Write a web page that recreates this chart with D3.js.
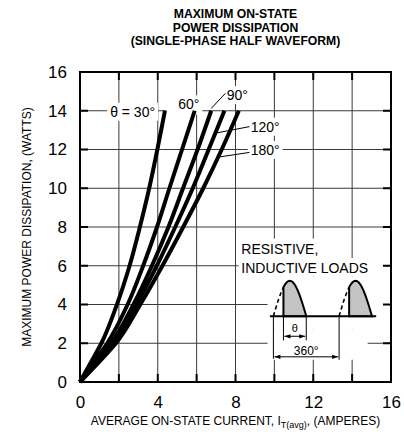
<!DOCTYPE html>
<html><head><meta charset="utf-8">
<script src="https://cdn.jsdelivr.net/npm/d3@7"></script>
<style>
body{margin:0;background:#fff}
svg{display:block;font-family:"Liberation Sans",Arial,Helvetica,sans-serif}
</style>
</head><body>
<svg id="c" width="404" height="434"></svg>
<script>
// ---------- data ----------
const titleLines = ["MAXIMUM ON-STATE", "POWER DISSIPATION", "(SINGLE-PHASE HALF WAVEFORM)"];
const xTicks = [0, 4, 8, 12, 16];
const yTicks = [0, 2, 4, 6, 8, 10, 12, 14, 16];
const gridX = [2, 4, 6, 8, 10, 12, 14];
const gridY = [2, 4, 6, 8, 10, 12, 14];
const powerLevels = [0, 1, 2, 4, 6, 8, 10, 12, 14];          // watts
const current30  = [0, 0.55, 1.10, 1.90, 2.55, 3.08, 3.56, 3.98, 4.37];
const current60  = [0, 0.70, 1.40, 2.45, 3.25, 3.96, 4.60, 5.25, 5.90];
const current90  = [0, 0.80, 1.60, 2.75, 3.70, 4.55, 5.30, 6.05, 6.75];
const current120 = [0, 0.85, 1.70, 2.90, 3.95, 4.90, 5.80, 6.62, 7.43];
const current180 = [0, 0.95, 1.85, 3.10, 4.24, 5.31, 6.34, 7.29, 8.17];
const seriesLabels = ["θ = 30°", "60°", "90°", "120°", "180°"];
const yTitle = "MAXIMUM POWER DISSIPATION, (WATTS)";
const insetText = ["RESISTIVE,", "INDUCTIVE LOADS"];

// ---------- setup ----------
const svg = d3.select("#c");
const x = d3.scaleLinear([0, 16], [80, 391]);
const y = d3.scaleLinear([0, 16], [382, 72]);
const FONT = '"Liberation Sans",Arial,Helvetica,sans-serif';

// title
svg.append("g").selectAll("text").data(titleLines).join("text")
  .attr("x", 235.5).attr("y", (d, i) => 18 + i * 13.7)
  .attr("text-anchor", "middle").attr("font-weight", "bold").attr("font-size", 12.2)
  .text(d => d);

// grid
const grid = svg.append("g").attr("stroke", "#3a3a3a").attr("stroke-width", 1);
grid.selectAll(".gx").data(gridX).join("line")
  .attr("x1", d => x(d)).attr("x2", d => x(d)).attr("y1", y(0)).attr("y2", y(16));
grid.selectAll(".gy").data(gridY).join("line")
  .attr("y1", d => y(d)).attr("y2", d => y(d)).attr("x1", x(0)).attr("x2", x(16));

// white halos (label backgrounds covering grid)
const halo = svg.append("g").attr("fill", "#fff");
halo.append("rect").attr("x", x(8.15)).attr("y", y(7.4)).attr("width", x(12.6) - x(8.15)).attr("height", y(6.4) - y(7.4));
halo.append("rect").attr("x", x(8.15)).attr("y", y(6.4)).attr("width", x(15.6) - x(8.15)).attr("height", y(5.45) - y(6.4));
halo.append("rect").attr("x", x(9.65)).attr("y", y(5.45)).attr("width", x(15.6) - x(9.65)).attr("height", y(2.7) - y(5.45));
halo.append("rect").attr("x", x(9.65)).attr("y", y(2.7)).attr("width", x(14.8) - x(9.65)).attr("height", y(1.15) - y(2.7));
halo.append("rect").attr("x", x(4.45)).attr("y", y(14.7)).attr("width", x(6.1) - x(4.45)).attr("height", y(13.8) - y(14.7));

// curve labels
const labelPos = [
  {u: 1.55, v: 13.69}, {u: 5.05, v: 14.07}, {u: 7.55, v: 14.55}, {u: 8.78, v: 12.92}, {u: 8.78, v: 11.72}
];
const labG = svg.append("g").attr("font-size", 14);
labelPos.forEach((p, i) => {
  const t = labG.append("text").attr("x", x(p.u)).attr("y", y(p.v)).text(seriesLabels[i]);
  const b = t.node().getBBox();
  labG.insert("rect", "text").attr("fill", "#fff")
    .attr("x", b.x - 3).attr("y", b.y - 1).attr("width", b.width + 6).attr("height", b.height + 2);
});
const leaders = [
  [[6.75, 14.12], [7.48, 14.9]],
  [[7.05, 12.86], [8.72, 13.18]],
  [[7.2, 11.62], [8.72, 11.85]]
];
svg.append("g").attr("stroke", "#000").attr("stroke-width", 1)
  .selectAll("line").data(leaders).join("line")
  .attr("x1", d => x(d[0][0])).attr("y1", d => y(d[0][1]))
  .attr("x2", d => x(d[1][0])).attr("y2", d => y(d[1][1]));

// frame
svg.append("rect").attr("x", x(0)).attr("y", y(16)).attr("width", x(16) - x(0)).attr("height", y(0) - y(16))
  .attr("fill", "none").attr("stroke", "#000").attr("stroke-width", 2);

// inner ticks
const tk = svg.append("g").attr("stroke", "#000").attr("stroke-width", 2);
gridX.forEach(d => {
  tk.append("line").attr("x1", x(d)).attr("x2", x(d)).attr("y1", y(0)).attr("y2", y(0) - 8);
  tk.append("line").attr("x1", x(d)).attr("x2", x(d)).attr("y1", y(16)).attr("y2", y(16) + 8);
});
gridY.forEach(d => {
  tk.append("line").attr("y1", y(d)).attr("y2", y(d)).attr("x1", x(0)).attr("x2", x(0) + 8);
  tk.append("line").attr("y1", y(d)).attr("y2", y(d)).attr("x1", x(16)).attr("x2", x(16) - 8);
});

// axes (labels)
const ax = svg.append("g").attr("transform", `translate(0,${y(0)})`)
  .call(d3.axisBottom(x).tickValues(xTicks).tickSize(0).tickPadding(14));
ax.select(".domain").remove();
ax.attr("font-size", 17).attr("font-family", FONT);
ax.selectAll("text").attr("fill", "#000");
const ay = svg.append("g").attr("transform", `translate(${x(0)},0)`)
  .call(d3.axisLeft(y).tickValues(yTicks).tickSize(0).tickPadding(13));
ay.select(".domain").remove();
ay.attr("font-size", 17).attr("font-family", FONT);
ay.selectAll("text").attr("fill", "#000");

// axis titles
svg.append("text").attr("transform", `translate(27,${(y(0) + y(16)) / 2}) rotate(-90)`)
  .attr("text-anchor", "middle").attr("dy", "0.35em").attr("font-size", 12).text(yTitle);
const xt = svg.append("text").attr("x", (x(0) + x(16)) / 2).attr("y", 425)
  .attr("text-anchor", "middle").attr("font-size", 12);
xt.append("tspan").text("AVERAGE ON-STATE CURRENT, I");
xt.append("tspan").attr("font-size", 9).attr("dy", 3).text("T(avg)");
xt.append("tspan").attr("dy", -3).text(", (AMPERES)");

// curves
const series = [current30, current60, current90, current120, current180];
const line = d3.line().x(d => x(d[0])).y(d => y(d[1])).curve(d3.curveMonotoneY);
svg.append("g").attr("fill", "none").attr("stroke", "#000").attr("stroke-width", 4)
  .selectAll("path").data(series).join("path")
  .attr("d", s => line(s.map((c, i) => [c, powerLevels[i]])));

// ---------- inset ----------
svg.append("g").attr("font-size", 14).selectAll("text").data(insetText).join("text")
  .attr("x", x(8.3)).attr("y", (d, i) => i ? y(5.65) : y(6.63)).text(d => d);

const ang = d3.scaleLinear([0, 360], [x(9.95), x(13.33)]);
const amp = d3.scaleLinear([0, 1], [y(3.4), y(5.22)]);
const inset = svg.append("g");
const start = 55;
const sinePts = (a0, a1, off) => d3.range(a0, a1 + 0.01, 2.5).map(a => [ang(a + off), amp(Math.sin(a * Math.PI / 180))]);
[0, 360].forEach(off => {
  inset.append("path").attr("d", d3.line()(sinePts(0, start, off)))
    .attr("fill", "none").attr("stroke", "#000").attr("stroke-width", 1.6).attr("stroke-dasharray", "4,3");
  const pts = [[ang(start + off), amp(0)], ...sinePts(start, 180, off)];
  inset.append("path").attr("d", d3.line()(pts) + "Z")
    .attr("fill", "#c4c4c4").attr("stroke", "#000").attr("stroke-width", 2);
});
inset.append("line").attr("x1", ang(-19)).attr("x2", ang(563)).attr("y1", amp(0)).attr("y2", amp(0))
  .attr("stroke", "#000").attr("stroke-width", 2);
const ext = [[start, 3.4, 2.15], [180, 3.4, 2.15], [0, 3.4, 1.2], [360, 3.4, 1.15]];
inset.append("g").attr("stroke", "#000").attr("stroke-width", 1)
  .selectAll("line").data(ext).join("line")
  .attr("x1", d => ang(d[0])).attr("x2", d => ang(d[0])).attr("y1", d => y(d[1])).attr("y2", d => y(d[2]));
const defs = svg.append("defs");
defs.append("marker").attr("id", "ah").attr("viewBox", "0 0 10 10").attr("refX", 10).attr("refY", 5)
  .attr("markerWidth", 7).attr("markerHeight", 6).attr("orient", "auto-start-reverse")
  .append("path").attr("d", "M0,1.5L10,5L0,8.5Z").attr("fill", "#000");
const dims = [[start, 180, 2.36], [0, 360, 1.3]];
inset.append("g").attr("stroke", "#000").attr("stroke-width", 1)
  .selectAll("line").data(dims).join("line")
  .attr("x1", d => ang(d[0]) + 1).attr("x2", d => ang(d[1]) - 1).attr("y1", d => y(d[2])).attr("y2", d => y(d[2]))
  .attr("marker-start", "url(#ah)").attr("marker-end", "url(#ah)");
inset.append("text").attr("x", ang((start + 180) / 2)).attr("y", y(2.58)).attr("text-anchor", "middle")
  .attr("font-size", 11).text("θ");
inset.append("text").attr("x", ang(180)).attr("y", y(1.4)).attr("text-anchor", "middle")
  .attr("font-size", 12).text("360°");
</script>
</body></html>
